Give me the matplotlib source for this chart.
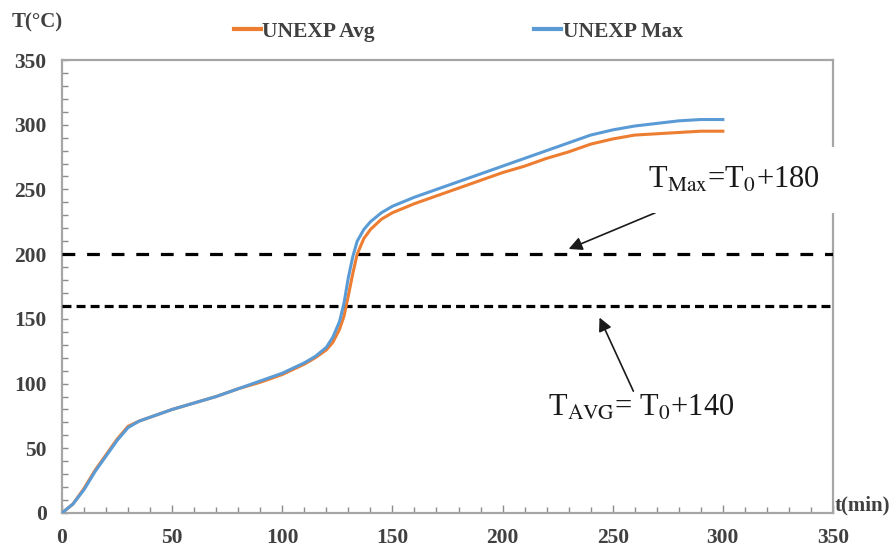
import matplotlib
matplotlib.use("Agg")
import matplotlib.pyplot as plt
from matplotlib.ticker import MultipleLocator

plt.rcParams['font.family'] = ['Liberation Serif', 'DejaVu Serif']
plt.rcParams['mathtext.fontset'] = 'stix'

# data
t_min = [0, 5, 10, 15, 20, 25, 30, 35, 40, 45, 50, 60, 70, 80, 90, 100, 110, 115, 120,
         123, 126, 128, 130, 132, 134, 137, 140, 145, 150, 160, 170, 180, 190, 200,
         210, 220, 230, 240, 250, 260, 270, 280, 290, 300]
unexp_max = [0, 7, 18, 32, 44, 56, 66, 71, 74, 77, 80, 85, 90, 96, 102, 108, 116, 121, 128,
             136, 148, 162, 182, 198, 210, 219, 225, 232, 237, 244, 250, 256, 262, 268,
             274, 280, 286, 292, 296, 299, 301, 303, 304, 304]
unexp_avg = [0, 7, 19, 33, 45, 57, 67, 71, 74, 77, 80, 85, 90, 96, 101, 107, 115, 120, 126,
             132, 142, 152, 168, 185, 200, 212, 219, 227, 232, 239, 245, 251, 257, 263,
             268, 274, 279, 285, 289, 292, 293, 294, 295, 295]
t_max_limit = 200   # T0 + 180
t_avg_limit = 160   # T0 + 140

fig = plt.figure(figsize=(8.93, 5.51), dpi=100)
ax = fig.add_axes([62/893, 1-513/551, (833-62)/893, (513-60)/551])

ax.plot(t_min, unexp_avg, color='#ED7D31', lw=2.2, label='UNEXP Avg', zorder=4)
ax.plot(t_min, unexp_max, color='#5B9BD5', lw=2.2, label='UNEXP Max', zorder=4)

ax.plot([0, 350], [t_max_limit, t_max_limit], color='black', lw=2.3,
        dashes=(4, 3.7), zorder=3)
ax.plot([0, 350], [t_avg_limit, t_avg_limit], color='black', lw=2.3,
        dashes=(2.8, 1.6), zorder=3)

ax.set_xlim(0, 350)
ax.set_ylim(0, 350)
ax.xaxis.set_major_locator(MultipleLocator(50))
ax.xaxis.set_minor_locator(MultipleLocator(10))
ax.yaxis.set_major_locator(MultipleLocator(50))
ax.yaxis.set_minor_locator(MultipleLocator(10))

for s in ax.spines.values():
    s.set_color('#a6a6a6')
    s.set_linewidth(1.6)
ax.tick_params(which='both', direction='in', color='#8c8c8c', width=1.0)
ax.tick_params(which='major', length=6, labelsize=15.5, pad=11)
ax.tick_params(which='minor', length=4)
ax.tick_params(axis='y', which='both', length=4)
for lab in ax.get_xticklabels() + ax.get_yticklabels():
    lab.set_fontweight('bold')
    lab.set_color('#404040')

fig.text(12/893, 1-22/551, 'T(°C)', fontsize=15, fontweight='bold', color='#404040',
         ha='left', va='center')
fig.text(835/893, 1-505/551, 't(min)', fontsize=15, fontweight='bold', color='#404040',
         ha='left', va='center')

leg = ax.legend(loc='center', bbox_to_anchor=(0.514, 1.062), ncol=2, frameon=False,
                handlelength=1.25, handletextpad=0.08, columnspacing=7.4,
                prop={'family': 'Liberation Serif', 'weight': 'bold', 'size': 15.5})
for line in leg.get_lines():
    line.set_linewidth(3)
for txt in leg.get_texts():
    txt.set_color('#404040')

ax.annotate(r'T$_{\rm Max}$=T$_{\rm 0}$+180', xy=(230, 204), xytext=(266, 246),
            fontsize=22, ha='left', va='bottom', color='#1a1a1a',
            bbox=dict(boxstyle='square,pad=0.6', fc='white', ec='none'),
            arrowprops=dict(arrowstyle='-|>', color='#1a1a1a', lw=1.2,
                            mutation_scale=20, shrinkA=0, shrinkB=0),
            zorder=5)
ax.annotate(r'T$_{\rm AVG}$= T$_{\rm 0}$+140', xy=(244, 151), xytext=(263, 92),
            fontsize=22, ha='center', va='top', color='#1a1a1a',
            arrowprops=dict(arrowstyle='-|>', color='#1a1a1a', lw=1.2,
                            mutation_scale=20, shrinkA=0, shrinkB=0),
            zorder=5)

fig.savefig('out.png', dpi=100)
